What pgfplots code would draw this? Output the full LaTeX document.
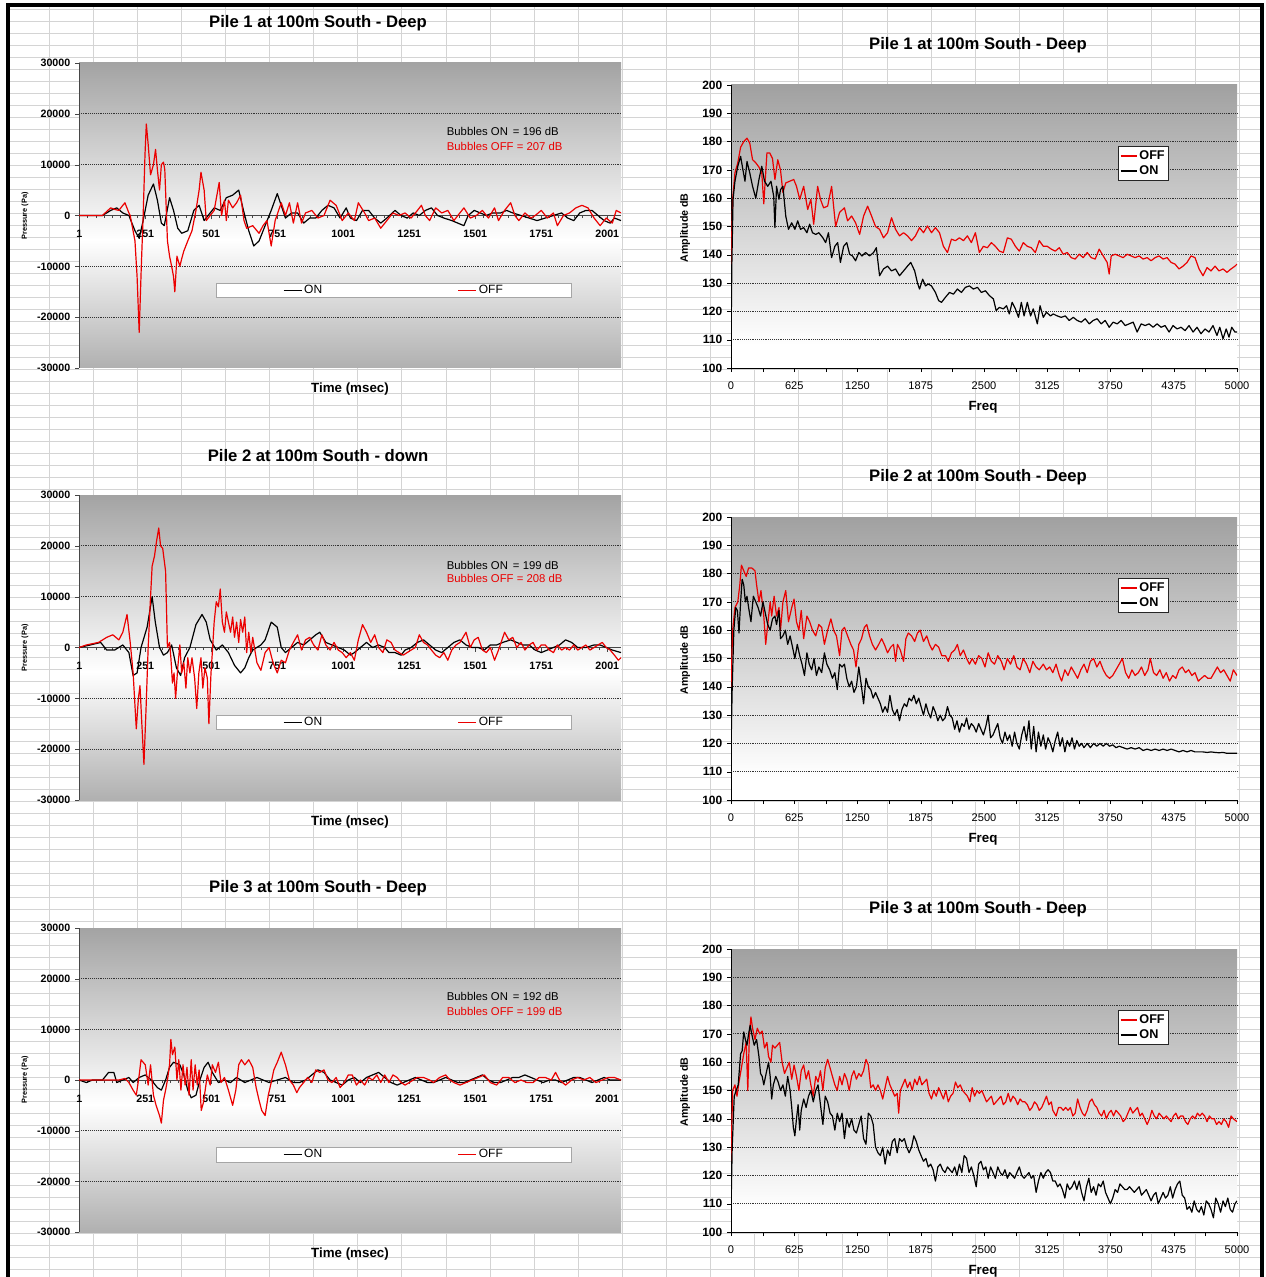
\documentclass[border=0pt]{standalone}
\usepackage{pgfplots}
\pgfplotsset{compat=1.18}
\usepackage{fontspec}
\setmainfont{Liberation Sans}
\definecolor{lt}{gray}{0.64}
\definecolor{lb}{gray}{0.69}
\definecolor{rt}{gray}{0.63}
\definecolor{offred}{RGB}{235,0,0}
\definecolor{cellgrid}{gray}{0.83}
\pgfdeclareverticalshading{leftbg}{100bp}{color(0bp)=(lb); color(25bp)=(lb); color(46bp)=(white); color(75bp)=(lt); color(100bp)=(lt)}
\pgfdeclareverticalshading{rightbg}{100bp}{color(0bp)=(white); color(29bp)=(white); color(75bp)=(rt); color(100bp)=(rt)}
\pgfplotsset{
  timeax/.style={
    scale only axis, width=406.5pt, height=228.75pt, anchor=north west,
    xmin=0, xmax=2053, ymin=-30000, ymax=30000,
    axis x line*=middle, axis y line*=left,
    axis line style={gray!55!black, line width=0.6pt},
    axis background/.style={shade, shading=leftbg},
    ytick={-30000,-20000,...,30000},
    scaled y ticks=false, scaled x ticks=false,
    xtick={1,251,...,2001}, minor x tick num=7,
    tick align=outside, major tick length=3pt, minor tick length=2pt,
    tick style={gray!55!black},
    extra y ticks={-20000,-10000,10000,20000}, extra y tick labels={},
    extra y tick style={grid=major, major tick length=0pt},
    grid style={densely dotted, gray!40!black, line width=0.7pt},
    yticklabel style={font=\fontsize{8}{8}\selectfont\bfseries},
    xticklabel style={font=\fontsize{8}{8}\selectfont\bfseries, yshift=-4.5pt},
    /pgf/number format/1000 sep={}, /pgf/number format/assume math mode=true,
    legend columns=2,
    legend image code/.code={\draw[##1, line width=1pt] (0pt,0pt) -- (13.5pt,0pt);},
    legend style={at={(0.581,0.254)}, anchor=center, draw=gray!70, fill=white,
      font=\fontsize{9}{9}\selectfont, inner xsep=50pt, inner ysep=0pt,
      nodes={inner sep=1.5pt},
      /tikz/every even column/.append style={column sep=100pt}},
    clip=true,
  },
  freqax/.style={
    scale only axis, width=379.5pt, height=212.25pt, anchor=north west,
    xmin=0, xmax=5000, ymin=100, ymax=200,
    axis x line*=bottom, axis y line*=left,
    axis line style={black, line width=0.6pt},
    axis background/.style={shade, shading=rightbg},
    ytick={100,110,...,200},
    scaled x ticks=false,
    xtick={0,312.5,...,5000},
    xticklabels={0,,625,,1250,,1875,,2500,,3125,,3750,,4375,,5000},
    tick align=outside, major tick length=3pt, tick style={black},
    extra y ticks={110,120,...,190}, extra y tick labels={},
    extra y tick style={grid=major, major tick length=0pt},
    grid style={densely dotted, gray!40!black, line width=0.7pt},
    yticklabel style={font=\fontsize{9}{9}\selectfont\bfseries},
    xticklabel style={font=\fontsize{8.3}{8.3}\selectfont, yshift=-3.5pt},
    /pgf/number format/1000 sep={}, /pgf/number format/assume math mode=true,
    legend image code/.code={\draw[##1, line width=1pt] (0pt,0pt) -- (12pt,0pt);},
    legend cell align=left,
    legend style={at={(0.815,0.7226)}, anchor=center, draw=black!85, fill=white,
      font=\fontsize{9.5}{10}\selectfont\bfseries, inner xsep=1.5pt, inner ysep=1.5pt,
      nodes={inner sep=1.5pt}},
  },
  onl/.style={black, line width=0.9pt, line join=round, mark=none},
  offl/.style={offred, line width=0.9pt, line join=round, mark=none},
}
\newcommand{\ttl}{\fontsize{12.5}{14}\selectfont\bfseries}
\newcommand{\lbl}{\fontsize{10}{11}\selectfont\bfseries}
\newcommand{\annot}{\fontsize{8.5}{9}\selectfont}
\begin{document}
\begin{tikzpicture}
\begin{scope}[x=0.75pt,y=-0.75pt]
\path[use as bounding box] (0,0) rectangle (1265,1277);
\begin{scope}
\clip (8,5) rectangle (1262,1277);
\foreach \i in {0,...,28} \draw[cellgrid, line width=0.5pt] ({49+44.1*\i},0) -- ({49+44.1*\i},1277);
\foreach \j in {0,...,106} \draw[cellgrid, line width=0.5pt] (0,{9+12*\j}) -- (1265,{9+12*\j});
\end{scope}
\draw[line width=2.3pt] (8,1277) -- (8,5) -- (1262,5) -- (1262,1277);
% titles and labels
\node[font=\ttl] at (318,23) {Pile 1 at 100m South - Deep};
\node[font=\ttl] at (978,45) {Pile 1 at 100m South - Deep};
\node[font=\ttl] at (318,456) {Pile 2 at 100m South - down};
\node[font=\ttl] at (978,477) {Pile 2 at 100m South - Deep};
\node[font=\ttl] at (318,888) {Pile 3 at 100m South - Deep};
\node[font=\ttl] at (978,909) {Pile 3 at 100m South - Deep};
\node[font=\lbl] at (350,389) {Time (msec)};
\node[font=\lbl] at (350,822) {Time (msec)};
\node[font=\lbl] at (350,1254) {Time (msec)};
\node[font=\lbl] at (983,407) {Freq};
\node[font=\lbl] at (983,839) {Freq};
\node[font=\lbl] at (983,1271) {Freq};
\node[font=\fontsize{5.5}{6}\selectfont\bfseries, rotate=90] at (25,216) {Pressure (Pa)};
\node[font=\fontsize{5.5}{6}\selectfont\bfseries, rotate=90] at (25,648) {Pressure (Pa)};
\node[font=\fontsize{5.5}{6}\selectfont\bfseries, rotate=90] at (25,1080) {Pressure (Pa)};
\node[font=\fontsize{8}{9}\selectfont\bfseries, rotate=90] at (685,228) {Amplitude dB};
\node[font=\fontsize{8}{9}\selectfont\bfseries, rotate=90] at (685,660) {Amplitude dB};
\node[font=\fontsize{8}{9}\selectfont\bfseries, rotate=90] at (685,1092) {Amplitude dB};
\end{scope}

% ================= Pile 1 time =================
\begin{axis}[timeax, at={(59.25pt,-47.25pt)}]
\addplot[onl] coordinates {(0,0) (89,0) (120,1000) (143,1500) (166,500) (189,0) (212,-3000) (228,-4500) (243,-1000) (262,4000) (282,6200) (297,3000) (312,-1500) (323,-2000) (343,3500) (358,1000) (374,-2500) (389,-3500) (412,-3000) (435,1000) (455,2000) (474,-1000) (489,0) (512,1500) (535,1000) (558,3500) (582,4000) (605,5000) (623,1000) (643,-3000) (662,-6000) (682,-5000) (705,-2000) (728,1000) (751,4300) (766,2000) (782,-500) (805,500) (828,500) (851,-1500) (874,-500) (897,-500) (920,1000) (943,2000) (966,1500) (989,-500) (1012,1500) (1028,-500) (1051,-1000) (1074,1000) (1097,1000) (1120,-500) (1143,-1500) (1166,-500) (1197,1000) (1220,0) (1243,-500) (1266,500) (1289,0) (1312,1000) (1335,1500) (1358,0) (1382,-500) (1412,-1000) (1435,-1500) (1458,-2000) (1474,0) (1497,1000) (1520,500) (1543,0) (1566,500) (1597,500) (1620,1000) (1643,500) (1674,0) (1705,-500) (1735,-1000) (1766,-500) (1797,0) (1828,500) (1851,-500) (1874,-1000) (1897,500) (1920,1000) (1943,1000) (1966,0) (1989,-1000) (2012,-1500) (2028,-500) (2053,-1000)};
\addlegendentry{ON}
\addplot[offl] coordinates {(0,0) (89,0) (105,800) (120,1500) (135,1200) (151,1000) (166,2000) (174,2500) (189,500) (194,0) (212,-5000) (220,-12000) (228,-23000) (236,-10000) (243,0) (250,12000) (255,18000) (262,14000) (271,8000) (282,10000) (290,13000) (297,9000) (305,5000) (312,10000) (320,10500) (325,9000) (335,-5000) (343,-8000) (351,-10000) (358,-12000) (363,-15000) (371,-8000) (382,-10000) (389,-8500) (397,-7000) (412,-5000) (428,-3000) (443,1000) (455,5000) (462,8500) (474,5000) (482,-1000) (497,0) (512,1000) (531,6500) (540,0) (551,3000) (558,-1000) (566,3000) (582,1500) (597,2500) (612,4000) (625,-1000) (635,-2500) (658,-2000) (682,-3500) (697,-2000) (712,-1000) (728,-6000) (743,-1000) (766,2500) (782,0) (797,2500) (812,-1500) (828,2500) (843,-1500) (858,500) (882,1000) (905,-500) (928,0) (951,3000) (974,2000) (997,-1000) (1020,500) (1043,-1000) (1058,2500) (1082,500) (1097,-1000) (1120,-500) (1143,-2500) (1166,-1000) (1189,500) (1212,0) (1235,500) (1258,-500) (1282,1000) (1297,2000) (1312,0) (1328,-1000) (1351,1500) (1374,500) (1397,1000) (1420,-1000) (1435,0) (1458,1500) (1482,-500) (1505,0) (1528,1000) (1551,-500) (1574,1500) (1589,-1000) (1612,1000) (1635,2500) (1651,0) (1666,-1000) (1689,500) (1712,-500) (1728,0) (1751,1000) (1774,-500) (1797,500) (1812,-2000) (1835,0) (1858,500) (1882,1500) (1905,2000) (1928,1500) (1951,-500) (1974,-2000) (1997,-500) (2020,-1500) (2035,1000) (2053,500)};
\addlegendentry{OFF}
\node[anchor=west, font=\annot] at (rel axis cs:0.67,0.774) {Bubbles ON\,\ = 196 dB};
\node[anchor=west, font=\annot, text=offred] at (rel axis cs:0.67,0.725) {Bubbles OFF = 207 dB};
\end{axis}

% ================= Pile 1 freq =================
\begin{axis}[freqax, at={(548.25pt,-63.75pt)}]
\addplot[offl] coordinates {(0,136) (16,159.6) (39,169) (67,172.5) (95,178) (126,180) (158,181.2) (185,179.5) (213,173.6) (245,172.5) (276,171) (304,169) (324,158) (355,176) (383,176) (410,174) (434,166.6) (462,173.6) (489,170) (513,162) (541,165.4) (580,166) (620,166.6) (647,164.2) (679,159.6) (718,164.2) (758,156) (789,159.6) (817,150.8) (856,164.2) (884,159.6) (915,156.6) (955,157.2) (994,164.2) (1034,150) (1073,155) (1121,156.6) (1152,152) (1192,153.7) (1231,151.3) (1271,147.2) (1310,153.7) (1350,157.2) (1389,153.7) (1428,150) (1468,149) (1507,146) (1547,147.8) (1586,153.1) (1626,149) (1665,146.7) (1705,147.8) (1744,146.7) (1784,145) (1823,146.7) (1863,149.6) (1902,147.8) (1941,150.2) (1981,147.8) (2020,149.6) (2060,147.8) (2099,143) (2139,140.8) (2178,145.5) (2218,145) (2257,146) (2297,145) (2336,146.7) (2375,144.3) (2415,147.8) (2454,140.8) (2494,143) (2533,142.5) (2573,144.3) (2612,143) (2652,141.3) (2691,140.8) (2731,146) (2770,145.5) (2810,143) (2849,141.3) (2888,144.3) (2928,143) (2967,142.5) (3007,140.8) (3046,145) (3086,143) (3125,143) (3165,142) (3204,141.3) (3244,142.5) (3283,140.2) (3323,140.8) (3362,139) (3401,138.5) (3441,140.2) (3480,139) (3520,140.8) (3559,139) (3599,138.5) (3638,142) (3678,139.6) (3717,137.3) (3737,133.2) (3757,139.6) (3796,140.2) (3836,139.6) (3875,139) (3914,140.2) (3954,139.6) (3993,139) (4033,139.6) (4072,138.5) (4112,139) (4151,137.9) (4191,139) (4230,139.6) (4270,138.5) (4309,139) (4349,137.3) (4388,136.7) (4427,135) (4467,136) (4506,137.3) (4546,139.6) (4585,139) (4625,135) (4664,132.6) (4704,135.5) (4743,134.3) (4783,136) (4822,134.3) (4862,135) (4901,133.8) (4941,135) (4980,136) (5000,136.7)};
\addlegendentry{OFF}
\addplot[onl] coordinates {(0,108) (8,136) (20,159.6) (39,166) (67,171.3) (95,174.8) (118,170) (138,166) (158,173) (185,169) (213,164.2) (245,160) (276,166.6) (304,171.3) (331,166) (363,164.2) (395,166) (422,160.7) (434,149.6) (450,164.2) (474,159.6) (489,163) (513,164.2) (541,153.7) (568,149) (600,151.3) (631,149) (659,152) (687,149) (718,149.6) (750,147.8) (777,150.8) (805,147.8) (837,147.2) (868,147.8) (908,146) (935,144.3) (963,147.8) (994,139) (1026,143) (1054,144.3) (1081,137.3) (1113,143) (1144,144.3) (1172,140.2) (1200,139.6) (1231,137.9) (1263,140.8) (1294,139.6) (1330,140.8) (1369,139.6) (1409,140.8) (1436,142.5) (1468,132.6) (1507,135) (1547,136) (1586,134.3) (1626,135) (1665,132.6) (1705,134.3) (1744,136) (1776,137.3) (1815,134.3) (1843,130) (1863,127.9) (1894,131.4) (1922,129) (1949,129.7) (1981,129) (2020,126.7) (2052,123.8) (2080,123.2) (2119,125) (2159,126.7) (2198,126.1) (2237,127.9) (2277,126.7) (2316,128.5) (2356,129) (2395,127.9) (2435,128.5) (2474,126.7) (2514,127.3) (2553,125.6) (2593,124.4) (2620,120.3) (2652,121.4) (2691,120.9) (2723,122) (2750,119.1) (2778,123.2) (2810,120.9) (2841,117.9) (2869,123.2) (2896,118.4) (2928,123.2) (2960,118.4) (2987,120.9) (3027,115.6) (3054,122) (3086,117.9) (3117,119.7) (3157,118.4) (3184,119.1) (3224,118.4) (3263,117.9) (3303,118.4) (3342,116.8) (3382,117.9) (3421,116.8) (3461,116.2) (3500,117.4) (3540,115.6) (3579,116.8) (3618,117.4) (3658,115.6) (3697,116.8) (3737,114.4) (3776,116.2) (3816,115.6) (3855,116.8) (3895,115) (3934,115.6) (3974,116.2) (4013,112.7) (4053,115.6) (4092,115) (4131,115.6) (4171,114.4) (4210,115.6) (4250,114.4) (4289,115) (4329,112.7) (4368,115) (4408,113.8) (4447,114.4) (4487,113.2) (4526,115) (4566,112.7) (4605,114.4) (4644,112.1) (4684,113.8) (4723,112.7) (4763,115) (4802,111.5) (4830,114.4) (4862,110.3) (4893,113.8) (4921,110.9) (4948,114.4) (4980,112.7) (5000,112.7)};
\addlegendentry{ON}
\end{axis}

% ================= Pile 2 time =================
\begin{axis}[timeax, at={(59.25pt,-371.25pt)}]
\addplot[onl] coordinates {(0,0) (43,500) (82,1000) (105,-500) (135,-500) (166,500) (189,-1000) (205,-5500) (220,-5000) (235,0) (258,4000) (277,10000) (289,5000) (305,0) (320,-1500) (335,-1000) (351,500) (369,-4000) (385,-5500) (400,-2000) (420,0) (443,4500) (466,6500) (482,5000) (497,1500) (520,-500) (543,500) (566,-1000) (589,-3500) (612,-5000) (628,-4000) (643,-2000) (658,-500) (689,500) (705,1500) (728,5000) (751,4000) (766,0) (782,-1000) (805,0) (828,1000) (851,500) (874,1500) (897,2500) (912,3000) (935,1000) (958,500) (982,0) (1005,-500) (1028,-1500) (1043,-1000) (1066,0) (1089,1000) (1112,0) (1135,500) (1158,0) (1174,-1000) (1197,-1000) (1220,-1500) (1235,-500) (1258,0) (1282,1000) (1305,1500) (1328,500) (1351,-500) (1374,-1000) (1397,0) (1420,1000) (1443,1500) (1466,500) (1489,0) (1512,0) (1535,-500) (1558,500) (1582,500) (1605,1000) (1635,1500) (1658,1000) (1682,500) (1705,500) (1728,-500) (1751,-1000) (1774,-500) (1797,0) (1820,500) (1843,1500) (1866,1000) (1889,0) (1920,0) (1951,500) (1974,500) (1997,0) (2020,-500) (2053,-1000)};
\addlegendentry{ON}
\addplot[offl] coordinates {(0,0) (28,500) (74,1000) (105,2000) (128,2500) (151,1500) (166,3000) (182,6500) (194,1000) (205,-5000) (217,-16000) (225,-10000) (231,-7500) (238,-15000) (246,-23000) (254,-12000) (262,0) (271,10000) (277,16000) (286,18000) (294,21000) (302,23500) (309,20000) (317,19500) (328,15000) (335,0) (343,1000) (348,-2000) (354,-7000) (360,-5000) (366,-10000) (374,-4000) (382,500) (389,-5000) (397,-3000) (405,-8000) (412,-2000) (420,-5000) (428,-2000) (438,-6000) (446,-12000) (454,-5000) (462,-2000) (469,-8000) (477,-4000) (486,-6000) (492,-15000) (500,-5000) (505,-1000) (512,5000) (520,9000) (528,8000) (535,11500) (543,5000) (551,3000) (558,7000) (566,5000) (574,3000) (582,6000) (589,2000) (597,5000) (605,1000) (612,5500) (620,3000) (628,6000) (635,-1000) (643,3000) (651,-1000) (658,2000) (674,-3000) (689,-4500) (705,-1000) (720,0) (735,-3000) (751,-5000) (766,-2500) (782,-3000) (797,-500) (812,1000) (828,2500) (843,-500) (858,1500) (874,2000) (889,500) (905,-500) (920,2500) (935,500) (951,-500) (966,1000) (982,-500) (997,-1000) (1012,-2000) (1028,-1000) (1043,-2500) (1058,1500) (1074,4500) (1089,3000) (1105,1000) (1120,2500) (1135,0) (1151,-1000) (1166,1500) (1182,1000) (1197,-500) (1212,-1000) (1228,-1500) (1243,-1000) (1258,-500) (1274,0) (1289,2500) (1305,1000) (1320,500) (1335,-500) (1351,-1500) (1366,-2000) (1382,-1000) (1397,-2500) (1412,-500) (1428,500) (1443,1000) (1466,3000) (1482,0) (1497,1500) (1512,2000) (1528,-500) (1543,-1000) (1558,0) (1574,-2500) (1589,-500) (1612,3000) (1628,1500) (1643,2000) (1658,0) (1674,1000) (1689,-500) (1705,500) (1720,1000) (1735,-500) (1751,500) (1766,500) (1782,-500) (1797,-1000) (1812,500) (1828,-500) (1843,0) (1858,-500) (1874,500) (1889,-500) (1905,0) (1920,500) (1935,-500) (1951,0) (1966,500) (1982,1000) (1997,0) (2012,-500) (2028,-1500) (2043,-2500) (2053,-2000)};
\addlegendentry{OFF}
\node[anchor=west, font=\annot] at (rel axis cs:0.67,0.770) {Bubbles ON\,\ = 199 dB};
\node[anchor=west, font=\annot, text=offred] at (rel axis cs:0.67,0.725) {Bubbles OFF = 208 dB};
\end{axis}

% ================= Pile 2 freq =================
\begin{axis}[freqax, at={(548.25pt,-387.75pt)}]
\addplot[offl] coordinates {(0,140) (16,160) (39,168) (67,170) (87,176) (103,183) (126,181) (150,179) (174,182) (205,182) (237,181) (253,176) (276,170) (296,174) (324,165) (343,155) (363,162) (387,170) (402,165) (426,172) (450,165) (474,168) (489,160) (513,170) (541,174) (568,163) (600,168) (623,171) (647,163) (671,160) (694,167) (718,157) (750,165) (777,163) (805,160) (837,158) (868,162) (896,161) (923,155) (955,160) (987,164) (1014,160) (1042,158) (1073,151) (1097,160) (1121,161) (1152,158) (1184,155) (1211,153) (1235,147) (1263,155) (1290,157) (1318,161) (1342,162) (1369,158) (1397,155) (1428,153) (1460,155) (1488,157) (1515,155) (1547,152) (1578,154) (1606,155) (1626,149) (1645,155) (1673,153) (1705,149) (1728,157) (1752,159) (1784,158) (1815,156) (1843,159) (1870,160) (1902,156) (1934,158) (1961,155) (1989,153) (2020,155) (2052,154) (2083,151) (2119,151) (2147,149) (2178,152) (2210,153) (2237,155) (2265,151) (2297,153) (2328,150) (2356,148) (2383,150) (2415,148) (2447,151) (2478,150) (2510,147) (2541,152) (2573,149) (2604,148) (2636,151) (2671,149) (2699,146) (2731,150) (2762,148) (2794,151) (2825,147) (2857,146) (2888,150) (2920,148) (2952,145) (2983,149) (3015,147) (3046,146) (3086,148) (3117,146) (3149,147) (3180,145) (3212,148) (3244,144) (3267,142) (3299,146) (3330,144) (3362,147) (3394,145) (3425,143) (3457,146) (3488,148) (3520,145) (3551,149) (3583,150) (3615,147) (3646,149) (3678,146) (3709,144) (3741,143) (3772,144) (3804,146) (3836,148) (3867,150) (3899,145) (3930,143) (3962,146) (3993,144) (4025,145) (4056,147) (4088,144) (4120,146) (4143,150) (4175,145) (4206,144) (4238,146) (4270,143) (4301,145) (4333,142) (4364,144) (4396,143) (4427,146) (4459,147) (4491,145) (4522,146) (4554,144) (4585,145) (4617,142) (4648,143) (4680,144) (4712,143) (4743,143) (4775,145) (4806,147) (4838,145) (4869,146) (4901,144) (4933,142) (4964,146) (5000,144)};
\addlegendentry{OFF}
\addplot[onl] coordinates {(0,118) (12,140) (28,160) (47,168) (63,167) (79,159) (95,170) (110,178) (126,176) (142,170) (158,172) (174,168) (197,163) (221,172) (245,170) (268,168) (292,165) (316,170) (339,166) (363,162) (387,160) (410,164) (434,165) (450,162) (474,167) (489,157) (513,158) (537,160) (560,155) (584,158) (608,154) (631,150) (655,155) (679,151) (702,148) (726,144) (750,152) (773,148) (797,146) (821,150) (844,144) (868,147) (896,145) (923,152) (947,148) (975,146) (1002,143) (1026,145) (1050,139) (1073,148) (1097,147) (1121,148) (1144,143) (1168,140) (1192,142) (1215,138) (1239,140) (1263,147) (1286,141) (1310,134) (1334,143) (1357,140) (1381,139) (1405,136) (1428,138) (1452,136) (1476,134) (1499,131) (1523,133) (1547,131) (1570,137) (1594,132) (1618,130) (1642,132) (1665,128) (1689,132) (1713,134) (1736,133) (1760,136) (1784,135) (1807,137) (1831,134) (1855,136) (1878,133) (1902,130) (1926,134) (1949,131) (1973,129) (1997,133) (2020,131) (2044,128) (2068,130) (2091,128) (2115,129) (2139,133) (2162,130) (2186,129) (2210,125) (2233,128) (2257,124) (2281,127) (2304,126) (2328,129) (2352,125) (2375,127) (2399,126) (2423,124) (2447,127) (2470,125) (2494,123) (2518,126) (2541,130) (2565,122) (2589,123) (2612,125) (2636,127) (2660,122) (2683,120) (2707,124) (2731,121) (2754,123) (2778,119) (2802,124) (2825,120) (2849,118) (2873,123) (2896,126) (2920,121) (2944,128) (2967,118) (2991,126) (3015,117) (3038,124) (3062,119) (3086,123) (3109,118) (3133,122) (3157,120) (3180,117) (3204,121) (3228,124) (3251,119) (3275,122) (3299,117) (3322,121) (3346,119) (3370,122) (3394,118) (3417,121) (3441,119) (3464,120) (3488,118.5) (3520,120) (3551,118.5) (3583,120) (3615,119) (3646,120) (3678,119) (3709,120) (3741,119) (3772,119.5) (3804,118.5) (3836,119) (3875,118.5) (3914,118) (3954,118.5) (3993,118) (4033,118.5) (4072,117.5) (4112,118) (4151,117.5) (4191,118) (4230,117.5) (4270,118) (4309,117.5) (4349,118) (4388,117.5) (4427,117) (4467,117.5) (4506,117) (4546,117.5) (4585,117) (4625,117) (4664,117) (4704,116.8) (4743,117) (4783,116.8) (4822,116.7) (4862,116.8) (4901,116.5) (4941,116.5) (5000,116.5)};
\addlegendentry{ON}
\end{axis}

% ================= Pile 3 time =================
\begin{axis}[timeax, at={(59.25pt,-696pt)}, height=228pt]
\addplot[onl] coordinates {(0,0) (28,-500) (51,0) (89,0) (112,1500) (132,1500) (143,-500) (166,0) (189,500) (205,-500) (228,500) (251,1000) (274,0) (297,-1500) (312,-2000) (328,0) (343,2500) (358,3500) (382,3000) (397,1000) (412,-2000) (425,-3500) (443,-3000) (458,0) (474,2500) (489,3500) (505,1500) (528,-500) (551,0) (574,-500) (597,500) (628,-500) (651,0) (674,500) (697,0) (720,-500) (751,0) (782,500) (812,-500) (835,-500) (858,0) (882,1000) (905,2000) (928,1500) (951,0) (974,-500) (997,-1000) (1020,0) (1043,500) (1066,-500) (1089,500) (1112,1000) (1135,1500) (1158,500) (1182,-500) (1205,-1000) (1228,-500) (1251,0) (1274,500) (1297,0) (1320,-500) (1343,-500) (1366,0) (1389,500) (1412,0) (1435,-500) (1458,-500) (1482,0) (1505,500) (1528,1000) (1551,0) (1574,-500) (1597,-500) (1620,0) (1643,500) (1666,500) (1689,1000) (1712,500) (1735,0) (1758,-500) (1782,0) (1805,0) (1828,-500) (1851,0) (1874,500) (1897,500) (1920,0) (1943,-500) (1966,0) (1989,500) (2012,0) (2053,0)};
\addlegendentry{ON}
\addplot[offl] coordinates {(0,0) (89,0) (151,0) (174,300) (189,-500) (205,-2000) (217,-3000) (228,1000) (235,4000) (251,3000) (262,-1000) (271,3000) (282,-3000) (292,-5000) (305,-7000) (312,-8500) (320,-4000) (328,-2000) (335,0) (343,3000) (348,8000) (354,5000) (363,6500) (371,0) (378,4000) (386,-2000) (394,3000) (402,-1000) (409,2500) (417,-3000) (425,4000) (432,-2000) (440,3000) (448,-1000) (455,2000) (463,-6000) (471,-4500) (478,-2000) (486,1000) (497,-1000) (505,3000) (517,1500) (528,3500) (538,-500) (551,500) (566,-2000) (582,-5000) (594,-2000) (605,3000) (615,4000) (628,3000) (643,4000) (658,2500) (671,-1500) (682,-4000) (692,-6000) (705,-7000) (717,-3000) (728,-500) (738,2000) (751,3500) (766,5500) (782,3000) (797,0) (812,-1000) (825,-2500) (835,-1500) (851,-500) (866,500) (882,-500) (897,2000) (912,1500) (928,2000) (943,0) (958,-500) (974,500) (989,-1500) (1005,-500) (1020,1000) (1035,1000) (1051,-1000) (1066,0) (1082,-1000) (1097,500) (1112,0) (1128,1000) (1143,-500) (1158,1000) (1174,-500) (1189,1000) (1205,500) (1220,-500) (1235,-1000) (1251,-500) (1266,0) (1282,500) (1305,500) (1328,0) (1343,-500) (1366,500) (1389,1000) (1405,0) (1420,-500) (1443,-1000) (1466,-500) (1489,0) (1512,500) (1535,1000) (1558,-500) (1582,-1000) (1605,500) (1628,500) (1651,-500) (1674,0) (1697,-500) (1720,-500) (1743,500) (1766,500) (1789,0) (1805,1500) (1820,0) (1843,-1000) (1866,0) (1889,500) (1912,0) (1935,500) (1958,-500) (1982,0) (2005,500) (2028,500) (2053,0)};
\addlegendentry{OFF}
\node[anchor=west, font=\annot] at (rel axis cs:0.67,0.776) {Bubbles ON\,\ = 192 dB};
\node[anchor=west, font=\annot, text=offred] at (rel axis cs:0.67,0.727) {Bubbles OFF = 199 dB};
\end{axis}

% ================= Pile 3 freq =================
\begin{axis}[freqax, at={(548.25pt,-711.75pt)}]
\addplot[offl] coordinates {(0,125) (16,150) (39,152) (59,148) (79,153) (103,158) (126,163) (150,167) (166,150) (182,170) (197,176) (213,172) (237,168) (260,172) (284,170) (308,171) (331,165) (355,167) (371,162) (395,160) (410,166) (434,165) (458,166) (481,167) (505,160) (529,156) (552,158) (576,160) (600,154) (623,159) (647,155) (671,150) (694,157) (718,159) (742,154) (766,157) (789,152) (813,148) (837,155) (860,153) (884,157) (908,150) (931,158) (955,161) (979,158) (1002,155) (1026,152) (1050,150) (1073,155) (1097,152) (1121,156) (1144,154) (1168,150) (1192,155) (1215,157) (1239,154) (1263,156) (1286,155) (1310,157) (1334,161) (1357,159) (1381,151) (1405,152) (1428,150) (1452,152) (1476,150) (1499,147) (1523,151) (1547,155) (1570,152) (1594,150) (1618,148) (1642,149) (1657,142) (1673,150) (1697,152) (1720,154) (1744,151) (1768,153) (1791,150) (1815,154) (1839,152) (1863,155) (1886,152) (1910,153) (1934,154) (1957,149) (1981,147) (2004,150) (2028,148) (2052,151) (2076,149) (2099,147) (2123,150) (2147,146) (2170,148) (2194,149) (2218,153) (2241,151) (2265,152) (2289,150) (2312,149) (2336,148) (2360,146) (2383,151) (2407,148) (2431,150) (2454,149) (2478,150) (2502,148) (2525,146) (2549,147) (2573,148) (2596,145) (2620,146) (2644,147) (2667,148) (2691,145) (2715,146) (2739,149) (2762,146) (2786,148) (2810,147) (2833,145) (2857,147) (2881,146) (2904,146) (2928,145) (2952,143) (2975,144) (2999,146) (3023,145) (3046,143) (3070,144) (3094,146) (3117,148) (3141,145) (3165,146) (3180,143) (3212,141) (3236,144) (3259,144) (3283,143) (3307,144) (3330,143) (3354,144) (3378,141) (3401,142) (3425,147) (3449,144) (3472,142) (3496,141) (3520,143) (3543,146) (3567,147) (3591,145) (3615,144) (3638,142) (3662,141) (3686,143) (3709,140) (3733,142) (3757,143) (3780,141) (3804,143) (3828,142) (3851,141) (3875,139) (3899,140) (3922,142) (3946,144) (3970,142) (3993,143) (4017,144) (4041,141) (4064,142) (4088,140) (4112,138) (4136,140) (4159,143) (4183,141) (4206,140) (4230,142) (4254,141) (4278,140) (4301,141) (4325,140) (4349,139) (4372,141) (4396,142) (4420,140) (4443,141) (4467,141) (4491,139) (4514,138) (4538,140) (4562,141) (4585,140) (4609,142) (4633,141) (4656,142) (4680,141) (4704,139) (4727,141) (4751,140) (4775,140) (4798,138) (4822,139) (4846,138) (4869,140) (4893,139) (4917,137) (4941,141) (4964,140) (5000,139)};
\addlegendentry{OFF}
\addplot[onl] coordinates {(0,108) (12,130) (32,148) (51,150) (71,152) (95,163) (110,164) (126,170.7) (142,168) (158,166) (174,170) (189,173) (205,170) (229,166) (253,168) (276,162) (292,156) (308,155) (324,152) (347,156) (371,160) (387,155) (402,147) (418,152) (442,155) (466,153) (489,150) (513,152) (537,148) (560,155) (584,150) (600,144) (616,137) (631,134) (647,140) (663,145) (679,136) (694,143) (718,147) (742,144) (766,148) (789,150) (813,146) (837,150) (860,152) (884,145) (908,138) (931,148) (955,146) (979,142) (1002,141) (1026,136) (1050,142) (1073,139) (1097,142) (1121,133) (1144,140) (1168,137) (1192,140) (1215,136) (1239,135) (1263,138) (1286,141) (1310,133) (1334,131) (1357,142) (1381,141) (1405,138) (1428,130) (1452,128) (1476,127) (1499,130) (1523,124) (1547,129) (1570,127) (1594,132) (1618,133) (1642,128) (1665,133) (1689,132) (1713,133) (1736,130) (1760,128) (1784,130) (1807,134) (1831,132) (1855,129) (1878,127) (1902,125) (1926,126) (1949,123) (1973,124) (1997,122) (2020,118) (2044,123) (2068,124) (2091,122) (2115,121) (2139,123) (2162,122) (2186,121) (2210,123) (2233,120) (2257,124) (2281,121) (2304,127) (2328,126) (2352,121) (2375,123) (2399,120) (2423,116) (2447,124) (2470,125) (2494,122) (2518,123) (2541,119) (2565,123) (2589,121) (2612,119) (2636,123) (2660,121) (2683,120) (2707,122) (2731,119) (2754,121) (2778,120) (2802,119) (2825,121) (2849,123) (2873,120) (2896,119) (2920,120) (2944,121) (2967,119) (2991,120) (3015,114) (3038,118) (3062,121) (3086,119) (3109,121) (3133,122) (3157,121) (3180,118) (3204,118) (3228,116) (3251,117) (3275,115) (3299,112) (3322,117) (3346,115) (3370,116) (3394,118) (3417,115) (3441,118) (3464,114) (3488,111) (3512,116) (3536,119) (3559,114) (3583,116) (3607,113) (3630,117) (3654,116) (3678,118) (3701,114) (3725,112) (3749,110) (3772,112) (3796,115) (3820,114) (3843,117) (3867,116) (3891,115) (3914,115) (3938,116) (3962,115) (3985,114) (4009,115) (4033,116) (4056,113) (4080,114) (4104,115) (4128,113) (4151,111) (4175,113) (4199,114) (4222,110) (4246,112) (4270,114) (4293,112) (4317,113) (4341,116) (4364,112) (4388,115) (4412,117) (4435,118) (4459,113) (4483,112) (4506,108) (4530,109) (4554,107) (4577,111) (4601,108) (4625,107) (4648,109) (4672,106) (4696,111) (4719,110) (4743,108) (4767,105) (4790,112) (4814,110) (4838,107) (4862,111) (4885,109) (4909,112) (4933,108) (4956,107) (4980,110) (5000,111)};
\addlegendentry{ON}
\end{axis}
\end{tikzpicture}
\end{document}
